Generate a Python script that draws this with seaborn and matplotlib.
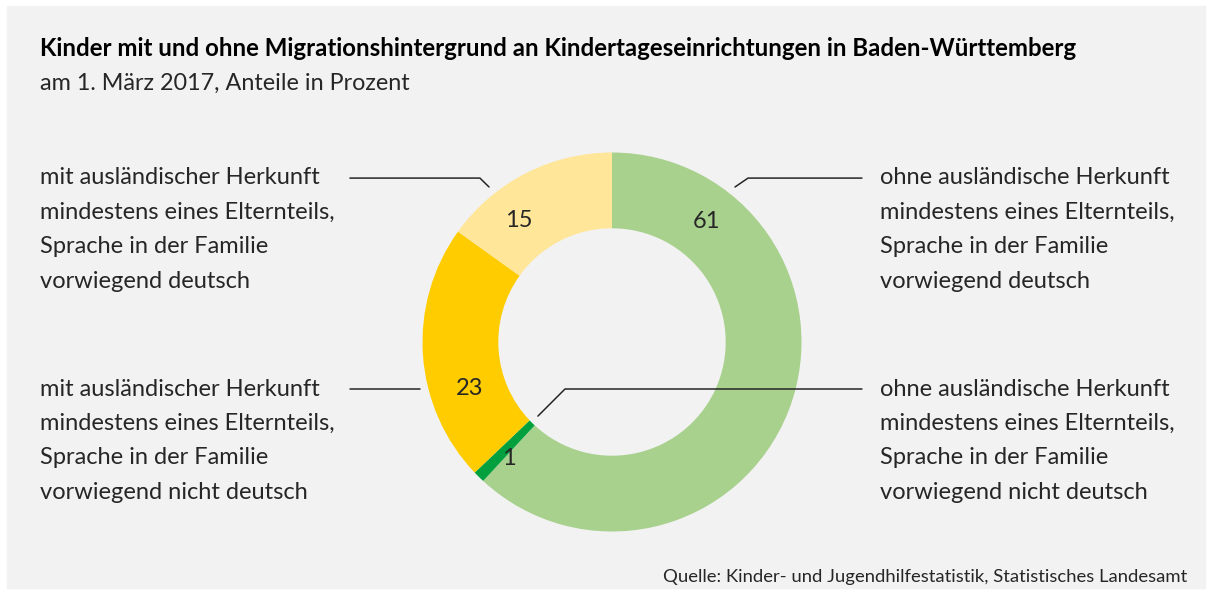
"""
Donut chart: Kinder mit und ohne Migrationshintergrund an Kindertageseinrichtungen in BW.
"""

import numpy as np
import matplotlib.pyplot as plt
import seaborn as sns

# data (share in percent, read from the ring), clockwise from 12 o'clock
categories = [
    'ohne ausländische Herkunft\nmindestens eines Elternteils,\nSprache in der Familie\nvorwiegend deutsch',
    'ohne ausländische Herkunft\nmindestens eines Elternteils,\nSprache in der Familie\nvorwiegend nicht deutsch',
    'mit ausländischer Herkunft\nmindestens eines Elternteils,\nSprache in der Familie\nvorwiegend nicht deutsch',
    'mit ausländischer Herkunft\nmindestens eines Elternteils,\nSprache in der Familie\nvorwiegend deutsch',
]
shares = [61.9, 1.0, 22.0, 15.1]
value_labels = ['61', '1', '23', '15']
colors = ['#a9d18e', '#00a03e', '#ffcc00', '#ffe699']

title = 'Kinder mit und ohne Migrationshintergrund an Kindertageseinrichtungen in Baden-Württemberg'
subtitle = 'am 1. März 2017, Anteile in Prozent'
source = 'Quelle: Kinder- und Jugendhilfestatistik, Statistisches Landesamt'

# layout (pixels, origin top-left)
W, H = 1212, 590
BG = '#f2f2f2'
cx, cy, R = 612, 342, 189.5
label_angles = [52, -131.6, 198, 127.5]   # degrees, where the numbers sit
label_radius = [0.81, 0.82, 0.79, 0.805]
# category text: x, y of first line centre
cat_pos = [(880, 178), (880, 389), (40, 389), (40, 178)]
line_step = 34.4
# leader lines in pie units
leaders = [
    [(0.649, 0.818), (0.718, 0.865), (1.319, 0.865)],
    [(-0.391, -0.391), (-0.248, -0.248), (1.319, -0.248)],
    [(-1.013, -0.248), (-1.383, -0.248)],
    [(-0.649, 0.818), (-0.697, 0.865), (-1.383, 0.865)],
]

sns.set_style('white')
plt.rcParams['font.family'] = ['Lato', 'DejaVu Sans']


def fx(x):
    return x / W


def fy(y):
    return 1 - y / H


fig = plt.figure(figsize=(W / 100, H / 100), dpi=100)
fig.patch.set_facecolor('white')
fig.patches.append(plt.Rectangle((fx(7), fy(588)), fx(W - 14), (588 - 6) / H,
                                 transform=fig.transFigure, color=BG, zorder=-5))

ax = fig.add_axes([fx(cx - R), fy(cy + R), 2 * R / W, 2 * R / H])
ax.pie(shares, colors=colors, startangle=90, counterclock=False, radius=1,
       wedgeprops=dict(width=0.4, linewidth=0), frame=False)
ax.set_xlim(-1, 1)
ax.set_ylim(-1, 1)
ax.set_aspect('equal')
ax.axis('off')

for lab, ang, r in zip(value_labels, label_angles, label_radius):
    a = np.deg2rad(ang)
    ax.text(r * np.cos(a), r * np.sin(a), lab, ha='center', va='center',
            fontsize=17, color='#262626')

for pts in leaders:
    xs, ys = zip(*pts)
    ax.plot(xs, ys, color='#262626', lw=1.1, clip_on=False)

for text, (x, y) in zip(categories, cat_pos):
    for i, line in enumerate(text.split('\n')):
        fig.text(fx(x), fy(y + i * line_step), line, ha='left', va='center',
                 fontsize=17, color='#262626')

fig.text(fx(40), fy(48), title, ha='left', va='center', fontsize=17.3,
         fontweight='bold', color='black')
fig.text(fx(40), fy(83), subtitle, ha='left', va='center', fontsize=16.8,
         color='#262626')
fig.text(fx(1187), fy(577), source, ha='right', va='center', fontsize=13.3,
         color='#262626')

fig.savefig('out.png', dpi=100, facecolor=fig.get_facecolor())
